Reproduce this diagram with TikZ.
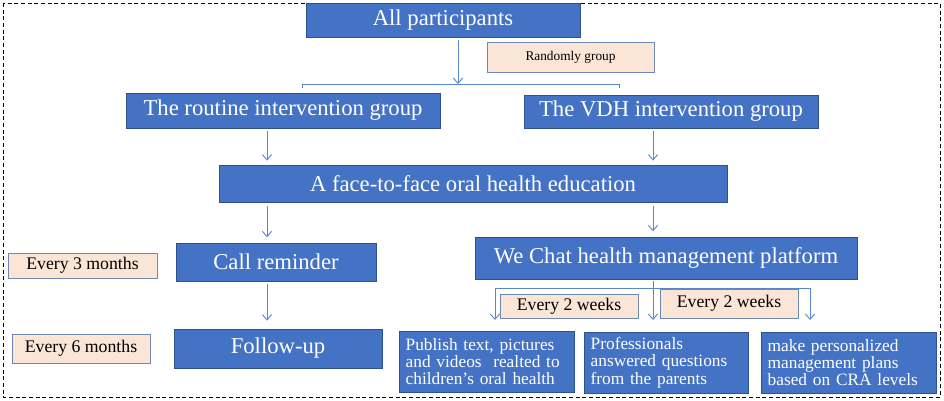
\documentclass[tikz,border=0pt]{standalone}
\usepackage{fontspec}
\setmainfont{Liberation Serif}
\usetikzlibrary{arrows.meta,calc}
\definecolor{boxblue}{HTML}{4472C4}
\definecolor{boxedge}{HTML}{2F528F}
\definecolor{peach}{HTML}{FBE5D6}
\definecolor{peachedge}{HTML}{6F86B0}
\definecolor{arrblue}{HTML}{5A86CE}
\tikzset{
  bluebox/.style={draw=boxedge, line width=0.6pt, fill=boxblue, text=white, inner sep=0pt, font=\fontsize{17}{19}\selectfont},
  notebox/.style={draw=peachedge, line width=0.6pt, fill=peach, text=black, inner sep=0pt, font=\fontsize{13.3}{15}\selectfont},
  textbox/.style={draw=boxedge, line width=0.6pt, fill=boxblue, text=white, inner xsep=5pt, inner ysep=0pt, align=left, font=\fontsize{13}{13}\selectfont},
  arr/.style={draw=arrblue, line width=0.7pt, -{Straight Barb[length=4pt,width=7pt]}},
  ln/.style={draw=arrblue, line width=0.7pt}
}
\begin{document}
\begin{tikzpicture}[x=0.75pt,y=-0.75pt]
\useasboundingbox (0,0) rectangle (944,400);
\draw[black, line width=0.7pt, dash pattern=on 3pt off 2pt] (3,3) rectangle (940,397);

\node[bluebox, minimum width=205.5pt, minimum height=25.5pt] (allp) at (443,20) {All participants};
\node[notebox, minimum width=125.25pt, minimum height=22.5pt, font=\fontsize{10}{11}\selectfont] (rand) at (570.5,57) {Randomly group};
\node[bluebox, minimum width=235.5pt, minimum height=26.25pt] (routine) at (283,110.5) {The routine intervention group};
\node[bluebox, minimum width=220.5pt, minimum height=24.75pt] (vdh) at (671,111.5) {The VDH intervention group};
\node[bluebox, minimum width=381pt, minimum height=27.75pt] (face) at (473,183.5) {A face-to-face oral health education};
\node[bluebox, minimum width=150pt, minimum height=28.5pt] (call) at (276,262) {Call reminder};
\node[bluebox, minimum width=286.5pt, minimum height=31.5pt] (wechat) at (666,258) {We Chat health management platform};
\node[notebox, minimum width=111.75pt, minimum height=18.75pt] (e3) at (82.5,265.5) {Every 3 months};
\node[bluebox, minimum width=156pt, minimum height=29.25pt] (follow) at (278,348.5) {Follow-up};
\node[notebox, minimum width=103.5pt, minimum height=21.75pt] (e6) at (81,348.5) {Every 6 months};
\node[notebox, minimum width=103.5pt, minimum height=18pt] (ew1) at (569,306) {Every 2 weeks};
\node[notebox, minimum width=103.5pt, minimum height=21.75pt] (ew2) at (729,303.5) {Every 2 weeks};
\node[textbox, text width=121.25pt, minimum height=45.75pt] (b1) at (486.5,361.5) {Publish text, pictures\\and videos\ \ realted to\\children{\char"27}s oral health};
\node[textbox, text width=113pt, minimum height=45.75pt] (b2) at (666,362.5) {Professionals\\answered questions\\from the parents};
\node[textbox, text width=121.25pt, minimum height=45.75pt] (b3) at (848.5,362.5) {make personalized\\management plans\\based on CRA levels};

% split after All participants
\coordinate (xa) at (458,0);
\coordinate (bl) at (302,84);
\coordinate (br) at (619,84);
\draw[ln] ($(bl)+(0,3.5)$) -- (bl) -- (br) -- ($(br)+(0,3.5)$);
\draw[arr, shorten <=2pt] (allp.south -| xa) -- (bl -| xa);

% columns
\coordinate (xl) at (267,0);
\coordinate (xr) at (653,0);
\draw[arr, shorten <=2pt, shorten >=3pt] (routine.south -| xl) -- (face.north -| xl);
\draw[arr, shorten <=2pt, shorten >=3pt] (vdh.south -| xr) -- (face.north -| xr);
\draw[arr, shorten <=3pt, shorten >=4pt] (face.south -| xl) -- (call.north -| xl);
\draw[arr, shorten <=3pt, shorten >=4pt] (face.south -| xr) -- (wechat.north -| xr);
\draw[arr, shorten <=2pt, shorten >=6pt] (call.south -| xl) -- (follow.north -| xl);

% WeChat split
\coordinate (sl) at (495,288);
\coordinate (sr) at (810,288);
\coordinate (se) at (0,320);
\draw[ln] (sl) -- (sr);
\draw[arr, shorten <=1pt] (wechat.south -| xr) -- (se -| xr);
\draw[arr] (sl) -- (se -| sl);
\draw[arr] (sr) -- (se -| sr);
\end{tikzpicture}
\end{document}
